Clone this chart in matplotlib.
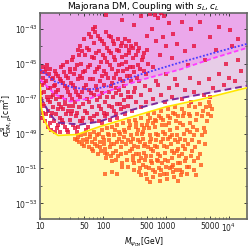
import numpy as np
import matplotlib
matplotlib.use("Agg")
from matplotlib import pyplot as plt
from matplotlib.ticker import FixedLocator, NullFormatter

# limit curves, (log10 M [GeV], log10 sigma [cm^2])
blue_logm = [1.0, 1.238, 1.524, 1.794, 2.063, 2.587, 3.222, 3.778, 4.3]
blue_logs = [-45.34, -46.03, -46.37, -46.49, -46.31, -45.63, -44.94, -44.37, -43.86]

mag_logm = [1.0, 1.238, 1.476, 1.794, 2.063, 2.587, 3.222, 3.778, 4.3]
mag_logs = [-45.91, -46.77, -47.17, -47.0, -46.6, -45.95, -45.34, -44.66, -44.09]

pur_logm = [1.0, 1.159, 1.27, 1.635, 1.952, 2.476, 3.016, 3.54, 4.3]
pur_logs = [-46.89, -47.91, -48.37, -48.49, -48.31, -47.63, -47.11, -46.77, -46.26]

yel_logm = [1.0, 1.008, 1.016, 1.063, 1.143, 1.286, 1.587, 1.952, 2.476, 3.016, 3.54, 4.3]
yel_logs = [-46.2, -46.5, -47.46, -48.2, -48.77, -49.11, -49.06, -48.6, -48.03, -47.46, -47.06, -46.37]

# scan points above the yellow line
red_pts = [
    (1.02,-45.5),(1.03,-46.2),(1.02,-47.0),(1.04,-47.8),(1.05,-45.8),(1.06,-46.6),(1.07,-47.4),(1.08,-48.3),
    (1.09,-45.3),(1.10,-46.0),(1.11,-46.9),(1.12,-47.7),(1.13,-48.6),(1.14,-45.6),(1.15,-46.4),(1.16,-47.2),
    (1.17,-48.0),(1.18,-48.8),(1.19,-45.9),(1.20,-46.8),(1.21,-47.5),(1.22,-48.3),(1.23,-45.4),(1.24,-46.2),
    (1.25,-47.0),(1.26,-47.9),(1.27,-48.7),(1.28,-45.7),(1.29,-46.5),(1.30,-47.3),(1.31,-48.1),(1.32,-48.9),
    (1.33,-45.2),(1.34,-46.0),(1.35,-46.9),(1.36,-47.6),(1.37,-48.4),(1.38,-45.5),(1.39,-46.3),(1.40,-47.1),
    (1.41,-47.9),(1.42,-48.8),(1.43,-44.9),(1.44,-45.8),(1.45,-46.6),(1.46,-47.4),(1.47,-48.2),(1.48,-45.3),
    (1.49,-46.1),(1.50,-47.0),(1.51,-47.7),(1.52,-48.5),(1.53,-44.6),(1.54,-45.6),(1.55,-46.4),(1.56,-47.2),
    (1.57,-48.0),(1.58,-48.9),(1.59,-45.1),(1.60,-44.2),(1.60,-45.9),(1.61,-46.8),(1.62,-47.5),(1.63,-48.3),
    (1.64,-44.0),(1.65,-45.0),(1.66,-45.8),(1.67,-46.6),(1.68,-47.3),(1.69,-48.1),(1.70,-43.6),(1.71,-44.5),
    (1.72,-45.4),(1.73,-46.2),(1.74,-47.0),(1.75,-47.8),(1.76,-48.6),(1.77,-43.3),(1.78,-44.2),(1.79,-45.1),
    (1.80,-45.9),(1.81,-46.7),(1.82,-47.5),(1.83,-48.3),(1.84,-43.0),(1.85,-43.8),(1.86,-44.7),(1.87,-42.9),
    (1.88,-45.5),(1.89,-46.3),(1.90,-47.1),(1.91,-47.9),(1.92,-43.4),(1.93,-44.3),(1.94,-45.2),(1.95,-46.0),
    (1.96,-46.9),(1.97,-47.6),(1.98,-48.4),(1.99,-43.7),(2.00,-44.5),(2.01,-45.4),(2.02,-46.2),(2.03,-47.2),
    (2.04,-48.0),(2.05,-43.2),(2.06,-44.1),(2.07,-44.9),(2.08,-45.8),(2.09,-46.6),(2.10,-47.4),(2.11,-48.2),
    (2.12,-43.5),(2.13,-44.4),(2.14,-45.3),(2.15,-46.1),(2.16,-46.9),(2.17,-47.7),(2.18,-43.9),(2.19,-44.8),
    (2.20,-45.6),(2.21,-46.4),(2.22,-47.3),(2.23,-48.1),(2.24,-43.6),(2.25,-44.3),(2.26,-45.1),(2.27,-45.9),
    (2.28,-46.8),(2.29,-47.6),(2.30,-43.8),(2.31,-44.6),(2.32,-45.4),(2.33,-46.3),(2.34,-47.1),(2.35,-47.9),
    (2.36,-44.0),(2.37,-44.9),(2.38,-45.7),(2.39,-46.6),(2.40,-47.4),(2.41,-43.7),(2.42,-44.4),(2.43,-45.2),
    (2.44,-46.0),(2.45,-46.9),(2.46,-47.7),(2.47,-44.1),(2.48,-44.7),(2.50,-45.5),(2.51,-46.4),(2.52,-47.2),
    (2.53,-43.9),(2.55,-44.3),(2.56,-45.1),(2.58,-46.0),(2.60,-46.8),(2.61,-47.5),(2.63,-44.6),(2.65,-45.4),
    (2.67,-46.3),(2.69,-47.2),(2.70,-44.2),(2.72,-45.0),
    (1.01,-46.7),(1.02,-48.1),(1.04,-45.2),(1.05,-47.3),(1.07,-46.1),(1.08,-45.5),(1.09,-47.9),(1.11,-45.1),
    (1.12,-46.4),(1.13,-47.1),(1.15,-48.4),(1.16,-45.3),(1.18,-46.9),(1.19,-47.8),(1.21,-45.8),(1.22,-46.3),
    (1.24,-48.9),(1.25,-45.6),(1.26,-46.6),(1.28,-47.6),(1.29,-48.5),(1.31,-45.9),(1.32,-46.9),(1.33,-47.5),
    (1.35,-48.2),(1.36,-45.1),(1.37,-46.1),(1.39,-47.3),(1.40,-48.6),(1.41,-45.7),(1.43,-46.4),(1.44,-47.7),
    (1.45,-48.9),(1.47,-45.5),(1.48,-46.8),(1.49,-47.9),(1.51,-44.8),(1.52,-46.2),(1.53,-47.4),(1.55,-48.7),
    (1.56,-45.3),(1.57,-46.6),(1.59,-47.8),(1.60,-48.6),(1.62,-44.5),(1.63,-45.7),(1.64,-46.9),(1.66,-48.3),
    (1.67,-44.3),(1.69,-45.5),(1.70,-46.4),(1.71,-47.7),(1.73,-48.8),(1.74,-44.1),(1.76,-45.2),(1.77,-46.5),
    (1.78,-47.2),(1.80,-48.1),(1.81,-43.5),(1.82,-44.6),(1.84,-45.9),(1.85,-46.8),(1.86,-48.0),(1.88,-43.2),
    (1.89,-44.4),(1.90,-45.3),(1.91,-46.5),(1.93,-47.4),(1.94,-48.3),(1.95,-43.6),(1.97,-44.9),(1.98,-45.7),
    (1.99,-46.7),(2.01,-47.8),(2.02,-43.9),(2.03,-44.7),(2.05,-45.6),(2.06,-46.9),(2.07,-47.9),(2.09,-43.4),
    (2.10,-44.3),(2.11,-45.1),(2.13,-46.3),(2.14,-47.5),(2.16,-43.7),(2.17,-44.6),(2.18,-45.8),(2.20,-46.7),
    (2.21,-47.9),(2.23,-44.2),(2.24,-45.4),(2.26,-46.5),(2.27,-47.3),(2.29,-44.0),(2.30,-45.0),(2.32,-46.0),
    (2.33,-47.5),(2.35,-43.6),(2.36,-44.5),(2.38,-45.3),(2.39,-46.9),(2.41,-44.2),(2.43,-45.7),(2.45,-44.0),
    (2.47,-45.2),(2.49,-46.6),(2.52,-44.5),(2.54,-45.8),(2.57,-44.1),(2.59,-45.3),(2.62,-44.8),(2.66,-44.4),
    (2.68,-45.6),
    (2.05,-42.2),(2.30,-42.5),(2.60,-42.3),(2.75,-42.15),(2.83,-42.2),(2.88,-42.4),(2.92,-42.1),(2.97,-42.3),
    (3.05,-42.7),(3.12,-43.3),(3.25,-42.6),(3.40,-43.0),(3.55,-42.6),(3.70,-43.5),(3.85,-42.9),(4.02,-43.1),
    (4.15,-43.6),(2.50,-42.8),(2.78,-43.0),(2.95,-43.5),(3.18,-43.9),(2.85,-43.7),(2.70,-43.4),(3.00,-44.0),
    (3.30,-44.3),(3.62,-44.8),(3.45,-44.0),(3.80,-44.2),(4.05,-44.0),(2.90,-44.5),(3.10,-44.7),(3.35,-45.1),
    (2.80,-45.2),(3.00,-45.6),(2.88,-46.2),(3.15,-45.9),
    (2.75,-46.5),(2.80,-47.0),(2.85,-46.0),(2.92,-46.8),(2.98,-47.2),(3.05,-46.4),(3.10,-46.9),(3.18,-46.2),
    (3.25,-47.0),(3.30,-46.5),(3.38,-45.8),(3.45,-46.6),(3.52,-46.1),(3.60,-46.8),(3.68,-45.9),(3.75,-46.4),
    (3.85,-45.6),(3.92,-46.2),(4.00,-45.8),(4.10,-46.0),(4.20,-45.4),(3.40,-47.2),(3.70,-46.9),(3.95,-45.0),
    (4.15,-44.8),
]

# scan points below the yellow line
orange_pts = [
    (1.55,-49.3),(1.60,-49.2),(1.62,-49.5),(1.65,-49.1),(1.68,-49.4),(1.70,-49.7),(1.72,-49.0),
    (1.75,-49.3),(1.77,-49.8),(1.80,-49.0),(1.82,-49.5),(1.84,-50.0),(1.86,-48.9),(1.88,-49.3),(1.90,-49.7),
    (1.92,-50.2),(1.94,-49.0),(1.95,-49.5),(1.97,-50.0),(1.99,-48.8),(2.00,-49.2),(2.02,-49.6),(2.03,-50.1),
    (2.05,-50.4),(2.06,-48.7),(2.08,-49.0),(2.09,-49.4),(2.11,-49.8),(2.12,-50.3),(2.14,-50.6),(2.03,-51.3),
    (2.15,-48.6),(2.17,-49.1),(2.18,-49.6),(2.20,-50.0),(2.21,-50.5),(2.22,-51.3),(2.23,-48.5),
    (2.25,-48.9),(2.26,-49.3),(2.28,-49.8),(2.29,-50.2),(2.30,-50.7),(2.32,-48.4),(2.33,-48.8),(2.34,-49.2),
    (2.36,-49.6),(2.37,-50.1),(2.38,-50.5),(2.40,-50.9),(2.41,-48.3),(2.42,-48.7),(2.44,-49.1),(2.45,-49.5),
    (2.46,-49.9),(2.48,-50.3),(2.49,-50.7),(2.50,-51.1),(2.51,-48.2),(2.52,-48.6),
    (2.54,-49.0),(2.55,-49.4),(2.56,-49.8),(2.57,-50.2),(2.58,-50.6),(2.59,-51.0),(2.60,-51.4),(2.61,-48.1),
    (2.62,-48.5),(2.63,-48.9),(2.64,-49.3),(2.65,-49.7),(2.66,-50.1),(2.67,-50.5),(2.68,-50.9),(2.69,-51.3),
    (2.70,-51.6),(2.71,-47.9),(2.72,-48.3),(2.73,-48.7),(2.74,-49.1),(2.75,-49.5),(2.76,-49.9),(2.77,-50.3),
    (2.78,-50.7),(2.79,-51.1),(2.80,-51.5),(2.81,-47.8),(2.82,-48.2),(2.83,-48.6),
    (2.84,-49.0),(2.85,-49.4),(2.86,-49.8),(2.87,-50.2),(2.88,-50.6),(2.89,-51.0),(2.90,-51.4),(2.91,-51.7),
    (2.92,-47.7),(2.93,-48.1),(2.94,-48.5),(2.95,-48.9),(2.96,-49.3),(2.97,-49.7),(2.98,-50.1),(2.99,-50.5),
    (3.00,-50.9),(3.01,-51.3),(3.02,-51.6),(3.03,-47.6),(3.04,-48.0),(3.05,-48.4),(3.06,-48.8),(3.07,-49.2),
    (3.08,-49.6),(3.09,-50.0),(3.10,-50.4),(3.11,-50.8),(3.12,-51.2),(3.13,-51.5),
    (3.14,-47.5),(3.15,-47.9),(3.16,-48.3),(3.17,-48.7),(3.18,-49.1),(3.19,-49.5),(3.20,-49.9),(3.21,-50.3),
    (3.22,-50.7),(3.23,-51.1),(3.24,-51.4),(3.26,-47.6),(3.27,-48.0),(3.28,-48.5),(3.29,-49.0),(3.30,-49.4),
    (3.31,-49.9),(3.32,-50.4),(3.33,-50.9),(3.34,-51.3),(3.36,-47.4),(3.37,-47.9),(3.38,-48.4),(3.39,-48.9),
    (3.41,-49.4),(3.42,-50.0),(3.44,-50.6),(3.45,-51.1),(3.47,-47.5),(3.48,-48.2),(3.50,-48.8),(3.52,-49.5),
    (3.54,-50.2),(3.55,-47.3),(3.58,-48.0),(3.60,-48.7),(3.62,-49.6),(3.64,-47.5),(3.66,-48.3),(3.68,-47.2),
    (3.71,-48.0),(3.73,-47.6),(3.56,-50.8),(3.48,-51.4),(3.20,-51.7),(2.75,-51.8),(2.15,-51.2),
    (1.58,-49.4),(1.66,-49.6),(1.74,-49.5),(1.79,-49.2),(1.83,-49.9),(1.87,-49.6),(1.91,-49.1),(1.96,-49.8),
    (2.01,-49.4),(2.04,-49.9),(2.07,-50.2),(2.10,-49.1),(2.13,-49.6),(2.16,-50.1),(2.19,-48.8),(2.22,-49.5),
    (2.24,-50.3),(2.27,-49.0),(2.31,-49.5),(2.31,-50.9),(2.35,-48.9),(2.39,-49.4),(2.43,-50.0),(2.43,-48.5),
    (2.47,-49.3),(2.47,-50.5),(2.50,-49.7),(2.53,-48.4),(2.53,-50.2),(2.56,-48.8),(2.57,-51.2),(2.59,-49.5),
    (2.61,-50.4),(2.62,-49.0),(2.64,-50.8),(2.66,-48.7),(2.67,-49.6),(2.69,-50.3),(2.70,-48.5),(2.72,-49.8),
    (2.73,-51.0),(2.74,-48.1),(2.76,-50.6),(2.77,-49.3),(2.79,-48.4),(2.80,-50.0),(2.82,-51.2),(2.83,-49.7),
    (2.85,-48.3),(2.86,-50.5),(2.88,-49.1),(2.89,-48.0),(2.90,-50.3),(2.92,-51.1),(2.93,-49.5),(2.94,-50.7),
    (2.96,-48.2),(2.97,-51.3),(2.98,-49.0),(3.00,-48.5),(3.01,-49.8),(3.03,-50.6),(3.04,-49.3),(3.06,-51.0),
    (3.07,-48.1),(3.09,-50.9),(3.10,-49.1),(3.11,-47.8),(3.13,-50.1),(3.14,-49.4),(3.16,-51.1),(3.17,-50.0),
    (3.19,-48.0),(3.20,-50.7),(3.22,-49.3),(3.23,-48.4),(3.25,-50.2),(3.26,-51.2),(3.28,-49.7),(3.29,-47.8),
    (3.31,-50.6),(3.33,-48.8),(3.35,-49.6),(3.36,-50.9),(3.39,-48.0),(3.40,-50.3),(3.43,-48.6),(3.44,-49.1),
    (3.46,-49.8),(3.50,-47.9),(3.51,-50.4),(3.57,-49.1),(3.59,-47.7),(3.63,-48.9),(3.67,-47.9),(3.70,-47.4),
]

xtick_vals = [10, 50, 100, 500, 1000, 5000, 10000]
xtick_labels = ["10", "50", "100", "500", "1000", "5000", "$10^4$"]
ytick_exps = [-53, -51, -49, -47, -45, -43]

fig = plt.figure(figsize=(2.49, 2.49), dpi=100)
ax = fig.add_axes([0.161, 0.12, 0.831, 0.828])
ax.set_xscale("log")
ax.set_yscale("log")
ax.set_facecolor("#eba8eb")

lo = 1e-60
ax.fill_between(10**np.array(mag_logm), lo, 10**np.array(mag_logs), color="#e7cde7", lw=0)
ax.fill_between(10**np.array(pur_logm), lo, 10**np.array(pur_logs), color="white", lw=0)
ax.fill_between(10**np.array(yel_logm), lo, 10**np.array(yel_logs), color="#fffbb2", lw=0)

red = np.array(red_pts)
ora = np.array(orange_pts)
ax.scatter(10**red[:, 0], 10**red[:, 1], s=5, marker="s", color="#e8103c", lw=0, alpha=0.8, zorder=3)
ax.scatter(10**ora[:, 0], 10**ora[:, 1], s=5, marker="s", color="#ff5a1e", lw=0, alpha=0.8, zorder=3)

ax.plot(10**np.array(blue_logm), 10**np.array(blue_logs), color="#4a3cff", lw=1.3,
        ls=(0, (1, 1)), zorder=4)
ax.plot(10**np.array(mag_logm), 10**np.array(mag_logs), color="#ff3cff", lw=1.3,
        ls=(0, (2.5, 1.5)), zorder=4)
ax.plot(10**np.array(pur_logm), 10**np.array(pur_logs), color="#7a2a9a", lw=1.4,
        ls=(0, (3.5, 2)), zorder=4)
ax.plot(10**np.array(yel_logm), 10**np.array(yel_logs), color="#ffe600", lw=1.2, zorder=4)

ax.set_xlim(10, 10**4.29)
ax.set_ylim(10**-53.9, 10**-42.1)

ax.xaxis.set_major_locator(FixedLocator(xtick_vals))
ax.set_xticklabels(xtick_labels)
minor_x = [m * 10**d for d in range(1, 5) for m in range(2, 10) if m * 10**d < 10**4.29]
ax.xaxis.set_minor_locator(FixedLocator(minor_x))
ax.xaxis.set_minor_formatter(NullFormatter())

ax.yaxis.set_major_locator(FixedLocator([10.0**e for e in ytick_exps]))
ax.set_yticklabels(["$10^{%d}$" % e for e in ytick_exps])
ax.yaxis.set_minor_locator(FixedLocator([10.0**e for e in range(-54, -41, 2)]))
ax.yaxis.set_minor_formatter(NullFormatter())

ax.tick_params(which="both", direction="in", top=True, right=True, labelsize=5.5,
               colors="#222222", pad=2)
ax.tick_params(which="major", length=2.5, width=0.6)
ax.tick_params(which="minor", length=1.5, width=0.5)
for sp in ax.spines.values():
    sp.set_color("#666666")
    sp.set_linewidth(1.2)

ax.set_title(r"Majorana DM, Coupling with $s_L, c_L$", fontsize=6.5, pad=3)
ax.set_xlabel(r"$M_{\psi_{\rm DM}}$[GeV]", fontsize=5.5, labelpad=1)
ax.set_ylabel(r"$\sigma^{\rm SI}_{{\rm DM},p}[{\rm cm}^2]$", fontsize=5.5)
ax.yaxis.set_label_coords(-0.12, 0.5)

fig.savefig("out.png", dpi=100)
